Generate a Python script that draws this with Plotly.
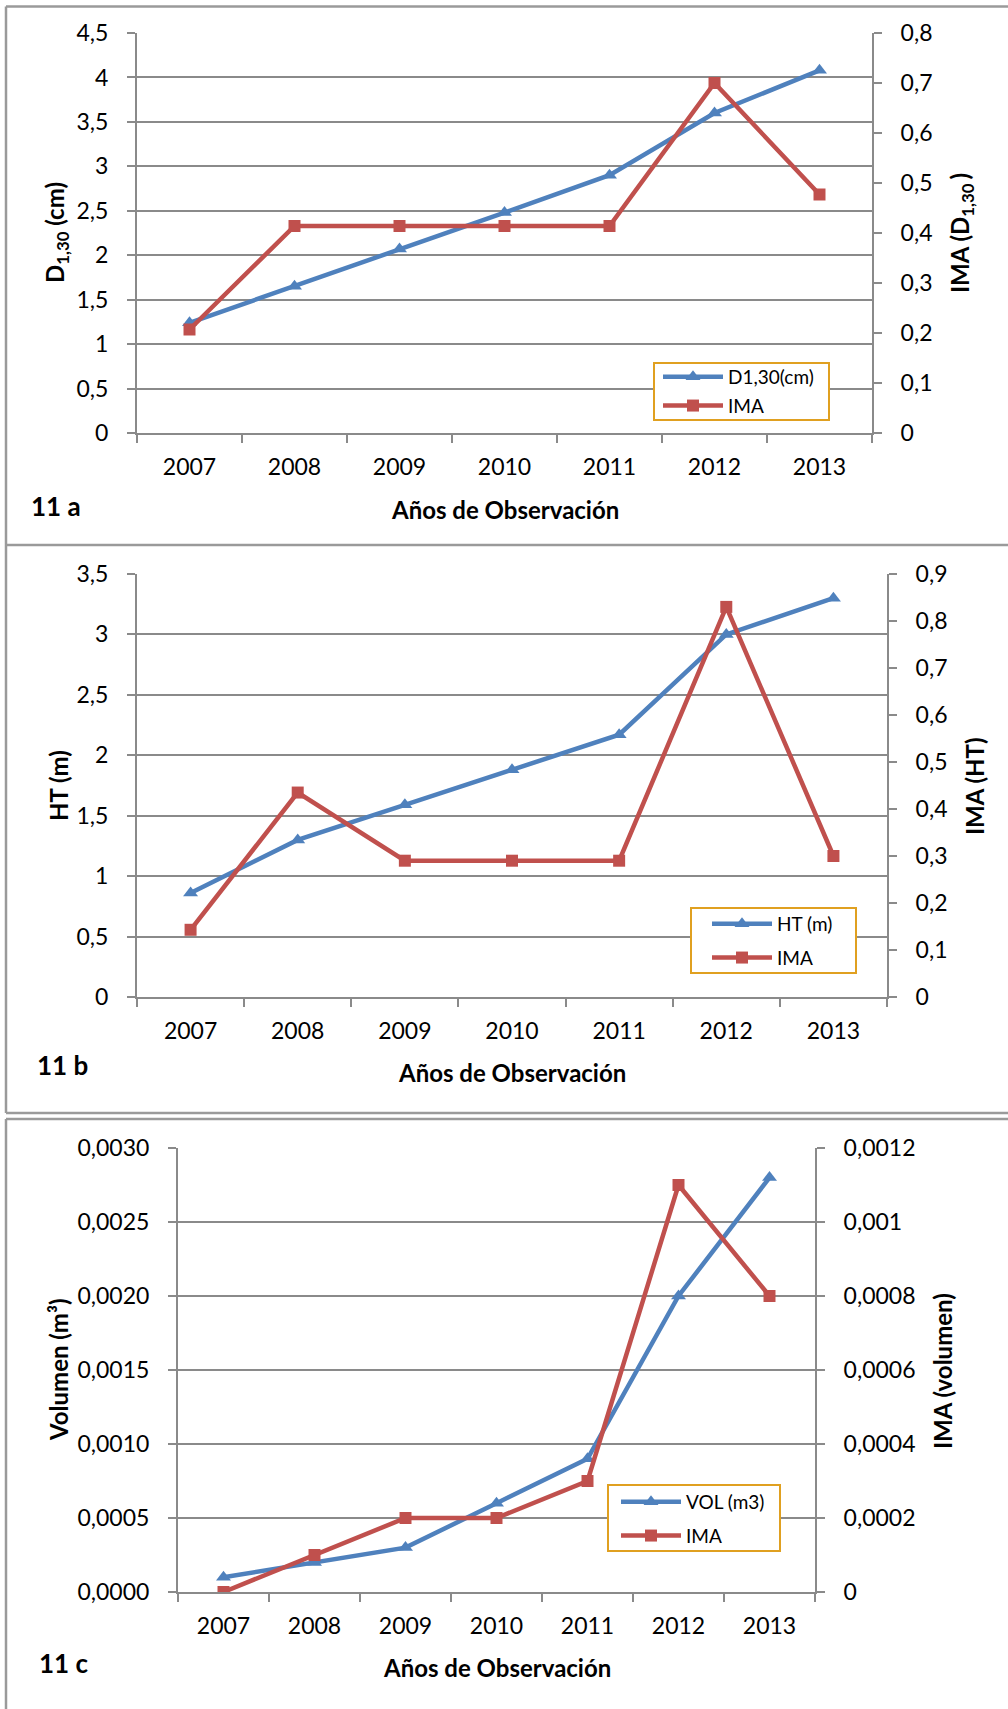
import plotly.graph_objects as go

# ---- data -------------------------------------------------------------
years = ["2007", "2008", "2009", "2010", "2011", "2012", "2013"]

d130 = [1.24, 1.65, 2.07, 2.48, 2.90, 3.60, 4.08]
ima_d130 = [0.207, 0.414, 0.414, 0.414, 0.414, 0.700, 0.477]

ht = [0.86, 1.30, 1.59, 1.88, 2.17, 3.00, 3.30]
ima_ht = [0.143, 0.435, 0.290, 0.290, 0.290, 0.830, 0.300]

vol = [0.0001, 0.0002, 0.0003, 0.0006, 0.0009, 0.0020, 0.0028]
ima_vol = [0.0, 0.0001, 0.0002, 0.0002, 0.0003, 0.0011, 0.0008]

# tick values / labels
a_left_vals = [0, 0.5, 1, 1.5, 2, 2.5, 3, 3.5, 4, 4.5]
a_left_text = ["0", "0,5", "1", "1,5", "2", "2,5", "3", "3,5", "4", "4,5"]
a_right_vals = [0, 0.1, 0.2, 0.3, 0.4, 0.5, 0.6, 0.7, 0.8]
a_right_text = ["0", "0,1", "0,2", "0,3", "0,4", "0,5", "0,6", "0,7", "0,8"]

b_left_vals = [0, 0.5, 1, 1.5, 2, 2.5, 3, 3.5]
b_left_text = ["0", "0,5", "1", "1,5", "2", "2,5", "3", "3,5"]
b_right_vals = [0, 0.1, 0.2, 0.3, 0.4, 0.5, 0.6, 0.7, 0.8, 0.9]
b_right_text = ["0", "0,1", "0,2", "0,3", "0,4", "0,5", "0,6", "0,7", "0,8", "0,9"]

c_left_vals = [0, 0.0005, 0.0010, 0.0015, 0.0020, 0.0025, 0.0030]
c_left_text = ["0,0000", "0,0005", "0,0010", "0,0015", "0,0020", "0,0025", "0,0030"]
c_right_vals = [0, 0.0002, 0.0004, 0.0006, 0.0008, 0.0010, 0.0012]
c_right_text = ["0", "0,0002", "0,0004", "0,0006", "0,0008", "0,001", "0,0012"]

# ---- styling ----------------------------------------------------------
W, H = 1008, 1709
BLUE = "#4F81BD"
RED = "#C0504D"
GRID = "#8A8A8A"
FRAME = "#9A9A9A"
LEG_BORDER = "#E0A020"
FONT = "Lato"
TICK_FONT = dict(family=FONT, size=23, color="#000000")
LEG_FONT = dict(family=FONT, size=19, color="#000000")


def px_x(x):
    return x / W


def px_y(y):
    return 1 - y / H


fig = go.Figure()

panels = [
    dict(xa="x", yl="y", yr="y2", left=d130, right=ima_d130,
         names=["D1,30(cm)", "IMA"], box=(137, 872, 33, 433),
         lrange=[0, 4.5], rrange=[0, 0.8],
         lticks=(a_left_vals, a_left_text), rticks=(a_right_vals, a_right_text),
         legend="legend", legbox=(654, 829, 363, 420),
         legpos=(658, 358), gap=1),
    dict(xa="x2", yl="y3", yr="y4", left=ht, right=ima_ht,
         names=["HT (m)", "IMA"], box=(137, 887, 574, 997),
         lrange=[0, 3.5], rrange=[0, 0.9],
         lticks=(b_left_vals, b_left_text), rticks=(b_right_vals, b_right_text),
         legend="legend2", legbox=(691, 856, 908, 973),
         legpos=(707, 905), gap=6),
    dict(xa="x3", yl="y5", yr="y6", left=vol, right=ima_vol,
         names=["VOL (m3)", "IMA"], box=(178, 815, 1148, 1592),
         lrange=[0, 0.003], rrange=[0, 0.0012],
         lticks=(c_left_vals, c_left_text), rticks=(c_right_vals, c_right_text),
         legend="legend3", legbox=(608, 780, 1485, 1551),
         legpos=(616, 1483), gap=6),
]

layout_axes = {}
shapes = []
legends = {}

for i, p in enumerate(panels):
    fig.add_trace(go.Scatter(
        x=years, y=p["left"], name=p["names"][0], mode="lines+markers",
        xaxis=p["xa"], yaxis=p["yl"], legend=p["legend"], legendgroup=f"g{i}a",
        line=dict(color=BLUE, width=4.5),
        marker=dict(symbol="triangle-up", size=13, color=BLUE),
    ))
    fig.add_trace(go.Scatter(
        x=years, y=p["right"], name=p["names"][1], mode="lines+markers",
        xaxis=p["xa"], yaxis=p["yr"], legend=p["legend"], legendgroup=f"g{i}b",
        line=dict(color=RED, width=4.5),
        marker=dict(symbol="square", size=12, color=RED),
    ))

    x0, x1, y0, y1 = p["box"]
    xdom = [px_x(x0), px_x(x1)]
    ydom = [px_y(y1), px_y(y0)]
    xkey = "xaxis" if p["xa"] == "x" else "xaxis" + p["xa"][1:]
    ylkey = "yaxis" if p["yl"] == "y" else "yaxis" + p["yl"][1:]
    yrkey = "yaxis" + p["yr"][1:]

    layout_axes[xkey] = dict(
        domain=xdom, anchor=p["yl"], type="category",
        categoryorder="array", categoryarray=years, range=[-0.5, 6.5],
        tickson="boundaries", ticks="outside", ticklen=8, tickwidth=2,
        tickcolor=GRID, showline=True, linecolor=GRID, linewidth=2,
        showgrid=False, tickfont=TICK_FONT, ticklabelstandoff=12,
        automargin=False, fixedrange=True,
    )
    layout_axes[ylkey] = dict(
        domain=ydom, anchor=p["xa"], range=p["lrange"],
        tickvals=p["lticks"][0], ticktext=p["lticks"][1],
        ticks="outside", ticklen=8, tickwidth=2, tickcolor=GRID,
        showline=True, linecolor=GRID, linewidth=2,
        showgrid=True, gridcolor=GRID, gridwidth=2, zeroline=False,
        tickfont=TICK_FONT, ticklabelstandoff=14, automargin=False,
        fixedrange=True,
    )
    layout_axes[yrkey] = dict(
        domain=ydom, anchor=p["xa"], overlaying=p["yl"], side="right",
        range=p["rrange"], tickvals=p["rticks"][0], ticktext=p["rticks"][1],
        ticks="outside", ticklen=8, tickwidth=2, tickcolor=GRID,
        showline=True, linecolor=GRID, linewidth=2,
        showgrid=False, zeroline=False,
        tickfont=TICK_FONT, ticklabelstandoff=14, automargin=False,
        fixedrange=True,
    )

    # legend frame
    lx0, lx1, ly0, ly1 = p["legbox"]
    shapes.append(dict(
        type="rect", xref="paper", yref="paper",
        x0=px_x(lx0), x1=px_x(lx1), y0=px_y(ly1), y1=px_y(ly0),
        line=dict(color=LEG_BORDER, width=2), fillcolor="white", layer="above",
    ))
    lpx, lpy = p["legpos"]
    legends[p["legend"]] = dict(
        x=px_x(lpx), y=px_y(lpy), xanchor="left", yanchor="top",
        bgcolor="rgba(0,0,0,0)", borderwidth=0, font=LEG_FONT,
        itemwidth=60, tracegroupgap=p["gap"],
        itemclick=False, itemdoubleclick=False,
    )

# panel frames
frame_lines = [
    (6, 6.5, W, 6.5), (6, 6.5, 6, 545), (6, 545, W, 545),
    (6, 545, 6, 1113), (6, 1113, W, 1113),
    (6, 1119, W, 1119), (6, 1119, 6, H),
]
for fx0, fy0, fx1, fy1 in frame_lines:
    shapes.append(dict(
        type="line", xref="paper", yref="paper",
        x0=px_x(fx0), y0=px_y(fy0), x1=px_x(fx1), y1=px_y(fy1),
        line=dict(color=FRAME, width=2.5), layer="below",
    ))

# titles and panel labels
texts = [
    ("D<sub>1,30</sub> (cm)", 56, 233, -90),
    ("IMA (D<sub>1,30 </sub>)", 961, 233, -90),
    ("Años de Observación", 505, 509, 0),
    ("11 a", 56, 506, 0),
    ("HT (m)", 58, 786, -90),
    ("IMA (HT)", 974, 786, -90),
    ("Años de Observación", 512, 1072, 0),
    ("11 b", 62, 1065, 0),
    ("Volumen (m³)", 58, 1370, -90),
    ("IMA (volumen)", 942, 1371, -90),
    ("Años de Observación", 497, 1667, 0),
    ("11 c", 63, 1663, 0),
]
annotations = []
for t, ax_, ay_, rot in texts:
    size = 26 if t.startswith("11 ") else 24
    annotations.append(dict(
        text=f"<b>{t}</b>", xref="paper", yref="paper",
        x=px_x(ax_), y=px_y(ay_), xanchor="center", yanchor="middle",
        showarrow=False, textangle=rot,
        font=dict(family=FONT, size=size, color="#000000"),
    ))

fig.update_layout(
    width=W, height=H, margin=dict(l=0, r=0, t=0, b=0, autoexpand=False),
    paper_bgcolor="white", plot_bgcolor="white",
    font=dict(family=FONT, color="#000000"),
    shapes=shapes, annotations=annotations, showlegend=True,
    **layout_axes, **legends,
)

fig.write_html(
    "out.html",
    config={"displayModeBar": False},
    post_script="document.body.style.margin='0';document.body.style.overflow='hidden';",
)
